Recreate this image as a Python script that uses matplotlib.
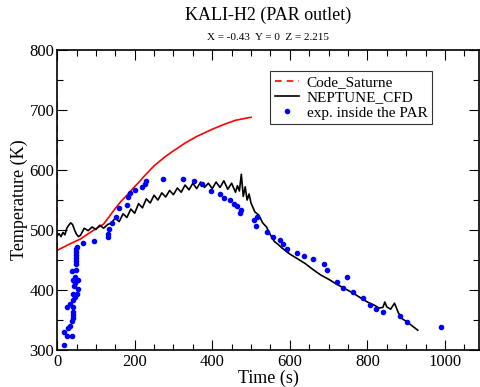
import numpy as np
import matplotlib
matplotlib.use('Agg')
import matplotlib.pyplot as plt
from matplotlib.lines import Line2D
from matplotlib.ticker import MultipleLocator

plt.rcParams['font.family'] = ['Liberation Serif', 'DejaVu Serif']

# Code_Saturne
cs_t = [0, 30, 60, 90, 120, 150, 165, 180, 195, 210, 225, 250, 280, 300, 330,
        360, 400, 430, 460, 500]
cs_T = [466, 476, 485, 498, 510, 536, 548, 558, 569, 579, 590, 607, 623, 632, 645,
        656, 668, 676, 683, 688]
cs_init_T = [714, 463]

# NEPTUNE_CFD
nc_t = [0, 5, 10, 15, 20, 25, 30, 35, 40, 45, 50, 55, 60, 65, 70, 80, 90, 100, 110,
        120, 130, 140, 150, 160, 170, 180, 190, 200, 210, 220, 230, 240, 250, 260,
        270, 280, 290, 300, 310, 320, 330, 340, 350, 360, 370, 380, 390, 400, 410,
        420, 430, 440, 450, 460, 465, 470, 475, 480, 485, 490, 495, 500, 510, 520,
        530, 540, 550, 560, 570, 580, 590, 600, 610, 620, 640, 660, 680, 700, 720,
        740, 760, 780, 800, 820, 830, 840, 845, 850, 860, 870, 880, 890, 900, 910,
        920, 930]
nc_T = [490, 494, 489, 496, 492, 503, 508, 512, 509, 500, 493, 489, 491, 497, 503,
        499, 505, 501, 508, 503, 509, 512, 520, 514, 527, 521, 535, 528, 544, 537,
        552, 545, 558, 550, 562, 555, 566, 559, 570, 563, 575, 567, 578, 569, 580,
        571, 578, 569, 580, 571, 582, 568, 578, 563, 574, 565, 593, 556, 572, 550,
        560, 545, 530, 525, 512, 505, 492, 481, 476, 470, 465, 460, 456, 452, 444,
        434, 425, 418, 410, 403, 396, 388, 380, 374, 370, 371, 380, 372, 368, 378,
        362, 352, 348, 343, 338, 333]

# exp. inside the PAR
ex_t = [18, 25, 38, 19, 28, 32, 38, 40, 40, 41, 42, 25, 34, 41, 45, 51, 42, 53, 44,
        45, 42, 55, 45, 38, 49, 49, 48, 49, 49, 49, 49, 51, 68, 94, 131, 131, 133,
        142, 152, 160, 180, 182, 189, 200, 219, 227, 229, 273, 325, 352, 374, 398,
        421, 430, 447, 456, 464, 471, 473, 507, 514, 516, 540, 557, 575, 583, 592,
        618, 637, 661, 688, 695, 721, 737, 747, 764, 789, 806, 823, 840, 885, 902,
        990]
ex_T = [308, 323, 323, 330, 337, 340, 349, 353, 358, 364, 371, 371, 377, 384, 389,
        393, 394, 401, 406, 411, 417, 417, 422, 432, 434, 443, 449, 453, 458, 464,
        468, 472, 478, 482, 494, 488, 502, 512, 522, 536, 542, 555, 561, 567, 572,
        577, 582, 585, 585, 582, 577, 565, 560, 553, 550, 544, 540, 529, 534, 516,
        507, 522, 497, 489, 483, 476, 468, 462, 457, 452, 444, 434, 414, 403, 422,
        396, 387, 375, 369, 363, 356, 347, 339]

fig = plt.figure(figsize=(4.8, 3.87), dpi=100)
ax = fig.add_axes([0.119, 0.0956, 0.879, 0.775])

ax.plot([0, 0], cs_init_T, c='red', lw=1.2, ls=(0, (4, 3)))
ax.plot(cs_t, cs_T, c='red', lw=1.2)
ax.plot(nc_t, nc_T, c='black', lw=1.2)
ax.plot(ex_t, ex_T, ls='none', marker='o', ms=3.0, mfc='blue', mec='blue')

ax.set_xlim(0, 1088)
ax.set_ylim(300, 800)
ax.xaxis.set_major_locator(MultipleLocator(200))
ax.xaxis.set_minor_locator(MultipleLocator(50))
ax.yaxis.set_major_locator(MultipleLocator(100))
ax.yaxis.set_minor_locator(MultipleLocator(50))
ax.tick_params(which='both', direction='in', top=True, right=True, labelsize=12,
               width=0.8)
ax.tick_params(axis='x', pad=3)
ax.tick_params(axis='y', pad=2)
ax.tick_params(which='major', length=7)
ax.tick_params(which='minor', length=4)
for s in ax.spines.values():
    s.set_linewidth(1.2)

ax.set_xlabel('Time (s)', fontsize=13, labelpad=0)
ax.set_ylabel('Temperature (K)', fontsize=13, labelpad=1)

fig.text(0.558, 0.96, 'KALI-H2 (PAR outlet)', ha='center', va='center', fontsize=13)
fig.text(0.558, 0.902, 'X = -0.43  Y = 0  Z = 2.215', ha='center', va='center', fontsize=8)

handles = [Line2D([], [], c='red', lw=1.2, ls=(0, (4, 3))),
           Line2D([], [], c='black', lw=1.2),
           Line2D([], [], ls='none', marker='o', ms=3, mfc='blue', mec='blue')]
leg = ax.legend(handles, ['Code_Saturne', 'NEPTUNE_CFD', 'exp. inside the PAR'],
                loc='upper left', bbox_to_anchor=(0.505, 0.93), fontsize=11,
                frameon=True, fancybox=False, handlelength=1.6, handletextpad=0.5,
                borderpad=0.3, labelspacing=0.1, borderaxespad=0)
leg.get_frame().set_edgecolor('black')
leg.get_frame().set_linewidth(0.8)

plt.savefig('out.png', dpi=100)
